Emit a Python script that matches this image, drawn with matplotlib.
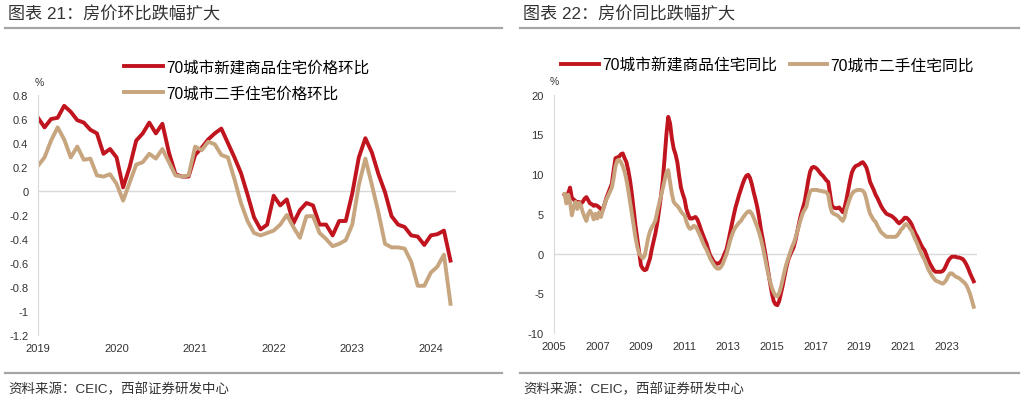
import numpy as np
import matplotlib
matplotlib.use("Agg")
import matplotlib.pyplot as plt
from matplotlib.lines import Line2D

plt.rcParams['font.family'] = ['Liberation Sans', 'Noto Sans CJK SC']
plt.rcParams['axes.unicode_minus'] = False

# ---- chart 21: month-on-month, Jan 2019 - Apr 2024 ----
new_mom = [
    0.61, 0.53, 0.60, 0.61, 0.71, 0.66, 0.59, 0.57, 0.51, 0.48, 0.31, 0.35,
    0.28, 0.03, 0.20, 0.42, 0.48, 0.57, 0.48, 0.56, 0.32, 0.14, 0.12, 0.12,
    0.30, 0.36, 0.43, 0.48, 0.52, 0.40, 0.28, 0.15, -0.03, -0.22, -0.32, -0.28,
    -0.04, -0.12, -0.07, -0.27, -0.16, -0.10, -0.12, -0.28, -0.28, -0.37, -0.25, -0.25,
    -0.02, 0.28, 0.44, 0.32, 0.14, -0.01, -0.21, -0.28, -0.30, -0.37, -0.38, -0.45,
    -0.37, -0.36, -0.33, -0.58,
]
sh_mom = [
    0.21, 0.28, 0.42, 0.53, 0.43, 0.28, 0.37, 0.26, 0.27, 0.13, 0.12, 0.14,
    0.06, -0.08, 0.07, 0.22, 0.24, 0.31, 0.27, 0.35, 0.24, 0.13, 0.12, 0.13,
    0.37, 0.34, 0.41, 0.39, 0.30, 0.28, 0.10, -0.10, -0.25, -0.35, -0.37, -0.35,
    -0.33, -0.28, -0.20, -0.30, -0.39, -0.21, -0.21, -0.35, -0.40, -0.46, -0.44, -0.41,
    -0.28, 0.05, 0.27, 0.05, -0.18, -0.44, -0.47, -0.47, -0.48, -0.59, -0.79, -0.79,
    -0.68, -0.63, -0.53, -0.94,
]
mom_labels = ["70城市新建商品住宅价格环比", "70城市二手住宅价格环比"]

# ---- chart 22: year-on-year, Jul 2005 - Apr 2024 ----
new_yoy = [
    7.4, 7.2, 7.6, 8.3, 7.0, 6.8,                                   # 2005 H2
    6.6, 6.4, 6.5, 6.3, 6.5, 6.9, 7.1, 6.7, 6.3, 6.2, 6.0, 6.1,     # 2006
    6.0, 5.8, 5.6, 5.5, 6.2, 7.0, 7.6, 8.2, 8.8, 10.5, 12.0, 12.1,  # 2007
    12.2, 12.5, 12.6, 12.0, 11.5, 10.5, 9.2, 7.5, 5.5, 3.5, 1.8, 0.0,
    -1.5, -1.9, -2.1, -2.0, -1.3, -0.6, 0.6, 1.6, 2.6, 3.9, 5.5, 7.2,
    9.2, 12.0, 15.0, 17.2, 16.4, 14.5, 13.2, 12.5, 11.5, 9.8, 8.3, 7.5,
    6.8, 5.6, 4.9, 4.4, 4.4, 4.5, 4.6, 4.3, 3.7, 3.0, 2.4, 1.8,
    1.3, 0.5, -0.2, -0.6, -1.0, -1.2, -1.3, -1.2, -1.0, -0.6, 0.0, 0.5,
    1.5, 2.6, 3.7, 4.8, 5.8, 6.6, 7.4, 8.1, 8.8, 9.4, 9.8, 9.9,
    9.5, 8.7, 7.7, 6.8, 5.8, 4.5, 3.0, 1.8, 0.5, -0.9, -2.3, -3.7,
    -5.0, -6.0, -6.4, -6.5, -6.0, -5.0, -4.0, -2.8, -1.7, -0.8, -0.2, 0.3,
    0.8, 1.7, 2.8, 3.9, 4.9, 5.7, 6.5, 7.8, 9.2, 10.3, 10.8, 10.9,
    10.8, 10.6, 10.3, 10.0, 9.8, 9.5, 9.2, 9.0, 7.5, 6.0, 5.8, 5.7,
    5.7, 5.8, 5.5, 5.2, 5.8, 6.8, 8.0, 9.2, 10.2, 10.7, 11.0, 11.1,
    11.2, 11.4, 11.5, 11.2, 10.8, 10.0, 9.0, 8.5, 8.0, 7.4, 7.0, 6.5,
    6.0, 5.6, 5.3, 5.0, 4.9, 4.8, 4.7, 4.5, 4.3, 4.0, 3.8, 4.0,
    4.2, 4.5, 4.5, 4.3, 4.0, 3.6, 3.0, 2.5, 2.1, 1.6, 1.1, 0.7,
    0.4, -0.2, -0.8, -1.3, -1.7, -2.1, -2.3, -2.3, -2.3, -2.3, -2.2, -1.9,
    -1.4, -0.9, -0.6, -0.4, -0.4, -0.4, -0.5, -0.5, -0.6, -0.7, -1.0, -1.4,
    -1.9, -2.5, -3.0, -3.5,
]
sh_yoy = [
    7.5, 6.3, 7.4, 6.5, 4.8, 5.8,
    6.5, 5.6, 6.4, 6.0, 5.2, 4.6, 4.1, 5.0, 5.4, 5.0, 4.3, 5.0,
    4.4, 5.2, 4.6, 5.4, 6.2, 6.8, 7.3, 7.8, 8.3, 9.5, 11.0, 11.7,
    11.8, 11.5, 11.0, 10.3, 9.3, 8.0, 6.5, 5.0, 3.5, 2.0, 0.8, 0.0,
    -0.3, -0.6, -0.3, 0.8, 2.0, 2.8, 3.3, 3.7, 4.2, 5.3, 6.3, 7.2,
    8.2, 9.2, 10.2, 10.5, 9.0, 7.5, 6.5, 6.2, 6.0, 5.7, 5.3, 5.0,
    4.8, 4.0, 3.4, 3.1, 3.2, 3.5, 3.4, 3.0, 2.5, 2.0, 1.4, 0.9,
    0.5, 0.0, -0.6, -1.0, -1.4, -1.7, -1.9, -1.9, -1.7, -1.3, -0.7, -0.1,
    0.7, 1.6, 2.3, 2.9, 3.3, 3.6, 3.9, 4.1, 4.5, 4.8, 5.1, 5.3,
    5.3, 5.0, 4.5, 3.9, 3.3, 2.6, 1.8, 0.8, -0.3, -1.5, -2.6, -3.5,
    -4.3, -4.9, -5.3, -5.4, -5.0, -4.2, -3.2, -2.2, -1.3, -0.6, 0.1, 0.8,
    1.3, 2.0, 2.8, 3.6, 4.4, 5.1, 5.5, 5.9, 7.0, 7.8, 8.0, 8.0,
    8.0, 8.0, 7.9, 7.9, 7.8, 7.8, 7.7, 7.4, 6.0, 5.2, 5.0, 4.9,
    4.8, 4.6, 4.3, 4.1, 4.6, 5.6, 6.3, 7.0, 7.5, 7.8, 7.9, 8.0,
    8.0, 8.0, 7.9, 7.6, 6.8, 5.8, 5.0, 4.6, 4.2, 4.0, 3.5, 3.1,
    2.7, 2.5, 2.3, 2.1, 2.1, 2.1, 2.1, 2.1, 2.1, 2.3, 2.6, 3.0,
    3.2, 3.6, 3.7, 3.5, 3.1, 2.8, 2.2, 1.7, 1.2, 0.6, 0.1, -0.4,
    -0.8, -1.4, -2.0, -2.4, -2.8, -3.1, -3.4, -3.5, -3.6, -3.7, -3.8, -3.6,
    -3.3, -2.8, -2.5, -2.5, -2.7, -2.9, -3.0, -3.1, -3.3, -3.5, -3.7, -4.0,
    -4.5, -5.1, -5.9, -6.7,
]
yoy_labels = ["70城市新建商品住宅同比", "70城市二手住宅同比"]

titles = ["图表 21：房价环比跌幅扩大", "图表 22：房价同比跌幅扩大"]
source = "资料来源：CEIC，西部证券研发中心"

RED = "#C0141E"
TAN = "#C6A57F"
LIGHT = "#D9D9D9"
RULE = "#A6A6A6"
TXT = "#333333"

fig = plt.figure(figsize=(10.24, 4.02), dpi=100)

# titles, rules and source notes
for x0, x1, title in [(0.005, 0.49, titles[0]), (0.508, 0.995, titles[1])]:
    fig.text(x0 + 0.003, 0.965, title, fontsize=12.3, color=TXT, va="center")
    fig.add_artist(Line2D([x0, x1], [0.928, 0.928], color=RULE, lw=1.6))
    fig.add_artist(Line2D([x0, x1], [0.070, 0.070], color=RULE, lw=1.6))
    fig.text(x0 + 0.003, 0.030, source, fontsize=9.7, color=TXT, va="center")


def style(ax):
    for s in ["top", "right", "bottom"]:
        ax.spines[s].set_visible(False)
    ax.spines["left"].set_color(LIGHT)
    ax.axhline(0, color=LIGHT, lw=1, zorder=0)
    ax.tick_params(axis="both", length=0, labelsize=8, labelcolor=TXT)
    ax.tick_params(axis="x", pad=6)
    ax.tick_params(axis="y", pad=7)


# left chart
ax1 = fig.add_axes([0.0371, 0.1642, 0.4082, 0.597])
t1 = 2019 + np.arange(len(new_mom)) / 12
l1, = ax1.plot(t1, new_mom, color=RED, lw=2.8)
l2, = ax1.plot(t1, sh_mom, color=TAN, lw=2.8)
ax1.set_xlim(2019, 2024.32)
ax1.set_ylim(-1.2, 0.8)
yt = np.round(np.arange(-1.2, 0.81, 0.2), 1) + 0.0
ax1.set_yticks(yt)
ax1.set_yticklabels(["0" if abs(v) < 1e-9 else f"{v:g}" for v in yt])
ax1.set_xticks(range(2019, 2025))
style(ax1)
fig.text(0.038, 0.793, "%", fontsize=7.5, color=TXT, ha="center", va="center")
ax1.legend([l1, l2], mom_labels, loc="upper left", bbox_to_anchor=(0.121, 0.85),
           bbox_transform=fig.transFigure, frameon=False, fontsize=11.2,
           handlelength=2.5, handletextpad=0.2, labelspacing=0.72, borderpad=0,
           borderaxespad=0)

# right chart
ax2 = fig.add_axes([0.5407, 0.1692, 0.4134, 0.593])
t2 = 2005.5 + np.arange(len(new_yoy)) / 12
r1, = ax2.plot(t2, new_yoy, color=RED, lw=2.8)
r2, = ax2.plot(t2, sh_yoy, color=TAN, lw=2.8)
ax2.set_xlim(2005, 2024.4)
ax2.set_ylim(-10, 20)
ax2.set_yticks(range(-10, 21, 5))
ax2.set_xticks(range(2005, 2024, 2))
style(ax2)
fig.text(0.5417, 0.797, "%", fontsize=7.5, color=TXT, ha="center", va="center")
ax2.legend([r1, r2], yoy_labels, loc="upper left", bbox_to_anchor=(0.548, 0.855),
           bbox_transform=fig.transFigure, frameon=False, fontsize=11.3, ncol=2,
           handlelength=2.4, handletextpad=0.2, columnspacing=0.8, borderpad=0,
           borderaxespad=0)

fig.savefig("out.png", dpi=100)
